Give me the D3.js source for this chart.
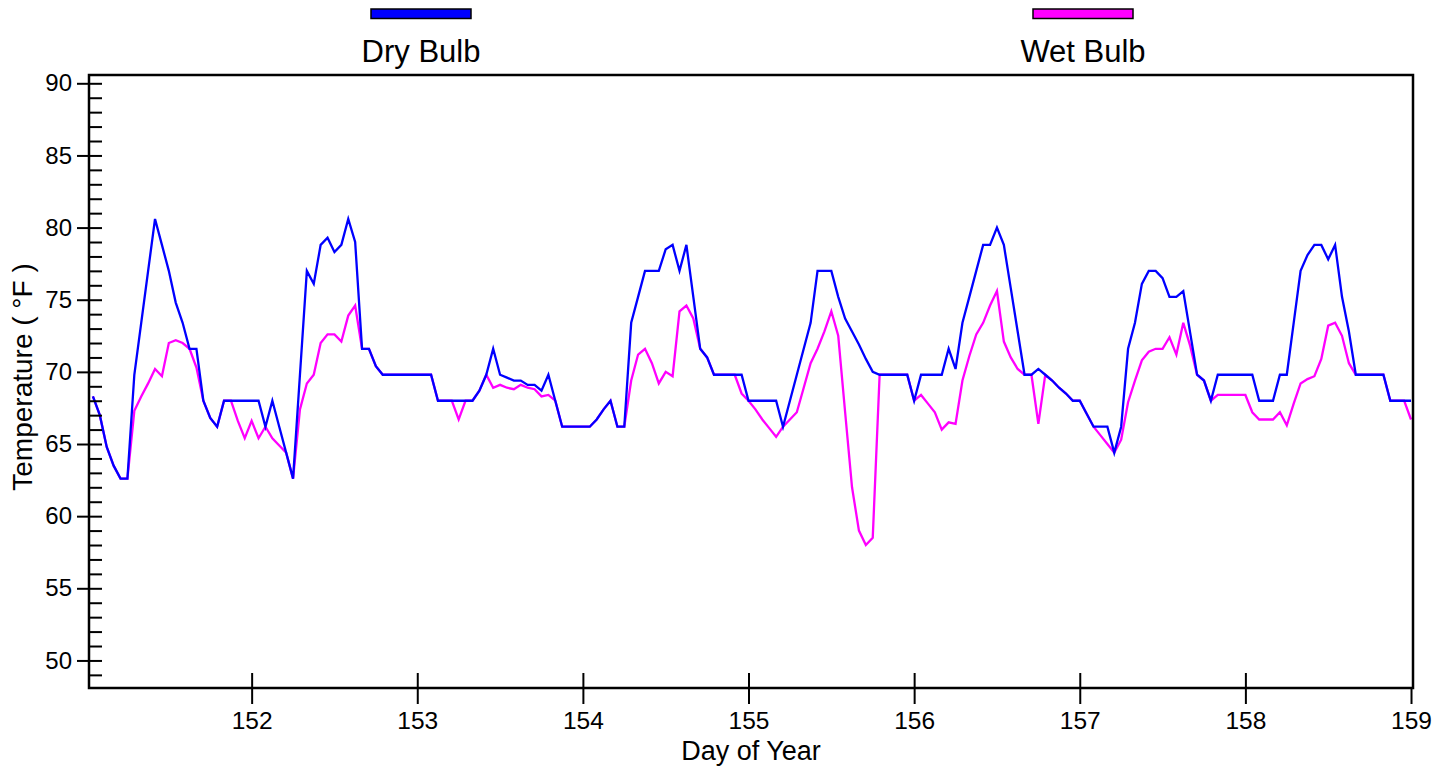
<!DOCTYPE html>
<html>
<head>
<meta charset="utf-8">
<script src="https://cdn.jsdelivr.net/npm/d3@7"></script>
<style>
  body { margin: 0; background: #fff; }
  svg text { font-family: "Liberation Sans", Arial, sans-serif; fill: #000; }
</style>
</head>
<body>
<svg id="drawing_region"></svg>
<script>
// hourly readings, first one at hour 1 of day 151
const startDay = 151;
const hoursPerDay = 24;

const dryBulb = [
  68.3, 67.0, 64.8, 63.5, 62.6, 62.6, 69.8, 73.4, 77.0, 80.6, 78.8, 77.0,
  74.8, 73.4, 71.6, 71.6, 68.0, 66.8, 66.2, 68.0, 68.0, 68.0, 68.0, 68.0,
  68.0, 66.2, 68.0, 66.2, 64.4, 62.6, 69.8, 77.0, 76.1, 78.8, 79.3, 78.3,
  78.8, 80.6, 79.0, 71.6, 71.6, 70.4, 69.8, 69.8, 69.8, 69.8, 69.8, 69.8,
  69.8, 69.8, 68.0, 68.0, 68.0, 68.0, 68.0, 68.0, 68.7, 69.8, 71.6, 69.8,
  69.6, 69.4, 69.4, 69.1, 69.1, 68.7, 69.8, 68.0, 66.2, 66.2, 66.2, 66.2,
  66.2, 66.7, 67.4, 68.0, 66.2, 66.2, 73.4, 75.2, 77.0, 77.0, 77.0, 78.5,
  78.8, 77.0, 78.8, 75.2, 71.6, 71.0, 69.8, 69.8, 69.8, 69.8, 69.8, 68.0,
  68.0, 68.0, 68.0, 68.0, 66.2, 68.0, 69.8, 71.6, 73.4, 77.0, 77.0, 77.0,
  75.2, 73.7, 72.8, 71.9, 70.9, 70.0, 69.8, 69.8, 69.8, 69.8, 69.8, 68.0,
  69.8, 69.8, 69.8, 69.8, 71.6, 70.2, 73.4, 75.2, 77.0, 78.8, 78.8, 80.0,
  78.8, 75.8, 72.8, 69.8, 69.8, 70.2, 69.8, 69.4, 68.9, 68.5, 68.0, 68.0,
  67.1, 66.2, 66.2, 66.2, 64.4, 66.2, 71.6, 73.4, 76.1, 77.0, 77.0, 76.5,
  75.2, 75.2, 75.6, 72.7, 69.8, 69.4, 68.0, 69.8, 69.8, 69.8, 69.8, 69.8,
  69.8, 68.0, 68.0, 68.0, 69.8, 69.8, 73.4, 77.0, 78.1, 78.8, 78.8, 77.8,
  78.8, 75.2, 72.8, 69.8, 69.8, 69.8, 69.8, 69.8, 68.0, 68.0, 68.0, 68.0
];

const wetBulb = [
  68.3, 67.0, 64.8, 63.5, 62.6, 62.6, 67.3, 68.3, 69.2, 70.2, 69.7, 72.0,
  72.2, 72.0, 71.6, 70.3, 68.0, 66.8, 66.2, 68.0, 68.0, 66.6, 65.4, 66.6,
  65.4, 66.2, 65.4, 64.9, 64.4, 62.6, 67.4, 69.2, 69.8, 72.0, 72.6, 72.6,
  72.1, 73.9, 74.6, 71.6, 71.6, 70.4, 69.8, 69.8, 69.8, 69.8, 69.8, 69.8,
  69.8, 69.8, 68.0, 68.0, 68.0, 66.7, 68.0, 68.0, 68.7, 69.8, 68.9, 69.1,
  68.9, 68.8, 69.1, 68.9, 68.8, 68.3, 68.4, 68.0, 66.2, 66.2, 66.2, 66.2,
  66.2, 66.7, 67.4, 68.0, 66.2, 66.2, 69.4, 71.2, 71.6, 70.6, 69.2, 70.0,
  69.7, 74.2, 74.6, 73.7, 71.6, 71.0, 69.8, 69.8, 69.8, 69.8, 68.5, 68.0,
  67.4, 66.7, 66.1, 65.5, 66.2, 66.7, 67.2, 68.9, 70.6, 71.6, 72.8, 74.2,
  72.5, 67.2, 62.0, 59.0, 58.0, 58.5, 69.8, 69.8, 69.8, 69.8, 69.8, 68.0,
  68.4, 67.8, 67.2, 66.0, 66.5, 66.4, 69.4, 71.1, 72.6, 73.4, 74.6, 75.6,
  72.1, 71.0, 70.2, 69.8, 69.8, 66.4, 69.8, 69.4, 68.9, 68.5, 68.0, 68.0,
  67.1, 66.2, 65.6, 65.0, 64.4, 65.3, 67.9, 69.4, 70.8, 71.4, 71.6, 71.6,
  72.4, 71.2, 73.4, 71.8, 69.8, 69.4, 68.0, 68.4, 68.4, 68.4, 68.4, 68.4,
  67.2, 66.7, 66.7, 66.7, 67.2, 66.3, 67.8, 69.2, 69.5, 69.7, 70.9, 73.2,
  73.4, 72.5, 70.6, 69.8, 69.8, 69.8, 69.8, 69.8, 68.0, 68.0, 68.0, 66.7
];

const seriesNames = ["Dry Bulb", "Wet Bulb"];
const seriesColors = ["#0000ff", "#ff00ff"];
const xTicks = [152, 153, 154, 155, 156, 157, 158, 159];
const yTicks = [50, 55, 60, 65, 70, 75, 80, 85, 90];

class LineChart {

    constructor( config, series ) {
        this.config = config;
        this.series = series;
        this.init();
    }

    init() {
        let self = this;
        let m = self.config.margin;

        self.inner_width = self.config.width - m.left - m.right;
        self.inner_height = self.config.height - m.top - m.bottom;

        self.svg = d3.select( self.config.parent )
            .attr('width', self.config.width)
            .attr('height', self.config.height);

        self.chart = self.svg.append('g')
            .attr('transform', `translate(${m.left}, ${m.top})`);

        self.xscale = d3.scaleLinear()
            .domain([151.018, 159.012])
            .range([0, self.inner_width]);

        self.yscale = d3.scaleLinear()
            .domain([48.09, 90.575])
            .range([self.inner_height, 0]);

        self.line = d3.line()
            .x( (d, i) => self.xscale( startDay + (i + 1) / hoursPerDay ) )
            .y( d => self.yscale(d) );
    }

    update() {
        let self = this;
        self.render();
    }

    render() {
        let self = this;
        let w = self.inner_width, h = self.inner_height;

        // wet bulb first so dry bulb sits on top
        self.chart.selectAll('path.series')
            .data( [1, 0] )
            .enter()
            .append('path')
            .attr('class', 'series')
            .attr('d', k => self.line( self.series[k] ))
            .attr('fill', 'none')
            .attr('stroke', k => seriesColors[k])
            .attr('stroke-width', 2.3);

        // y axis: outer ticks with labels, inner ticks every degree
        self.chart.append('g')
            .call( d3.axisLeft(self.yscale).tickValues(yTicks).tickSize(12).tickPadding(5) )
            .call( g => g.select('.domain').remove() )
            .call( g => g.selectAll('line').attr('stroke-width', 2) )
            .call( g => g.selectAll('text').attr('font-size', 24) );

        self.chart.append('g')
            .call( d3.axisRight(self.yscale).tickValues(d3.range(49, 91)).tickSize(13).tickFormat('') )
            .call( g => g.select('.domain').remove() )
            .call( g => g.selectAll('line').attr('stroke-width', 2) );

        // x axis
        self.chart.append('g')
            .attr('transform', `translate(0, ${h})`)
            .call( d3.axisBottom(self.xscale).tickValues(xTicks).tickSize(16).tickPadding(8) )
            .call( g => g.select('.domain').remove() )
            .call( g => g.selectAll('line').attr('stroke-width', 2) )
            .call( g => g.selectAll('text').attr('font-size', 24.5) );

        self.chart.append('g')
            .attr('transform', `translate(0, ${h})`)
            .call( d3.axisTop(self.xscale).tickValues(xTicks.slice(0, -1)).tickSize(15).tickFormat('') )
            .call( g => g.select('.domain').remove() )
            .call( g => g.selectAll('line').attr('stroke-width', 2) );

        // frame
        self.chart.append('rect')
            .attr('width', w)
            .attr('height', h)
            .attr('fill', 'none')
            .attr('stroke', '#000')
            .attr('stroke-width', 2.5);

        // titles
        self.chart.append('text')
            .attr('x', w / 2)
            .attr('y', h + 72)
            .attr('text-anchor', 'middle')
            .attr('font-size', 27)
            .text('Day of Year');

        self.svg.append('text')
            .attr('transform', 'translate(32, 377) rotate(-90)')
            .attr('text-anchor', 'middle')
            .attr('font-size', 28)
            .text('Temperature ( °F )');

        // legend
        const legendX = [421, 1083];
        const legend = self.svg.selectAll('g.legend')
            .data( seriesNames )
            .enter()
            .append('g')
            .attr('class', 'legend')
            .attr('transform', (d, i) => `translate(${legendX[i]}, 0)`);

        legend.append('rect')
            .attr('x', -50)
            .attr('y', 9)
            .attr('width', 100)
            .attr('height', 9.5)
            .attr('fill', (d, i) => seriesColors[i])
            .attr('stroke', '#000')
            .attr('stroke-width', 1.5);

        legend.append('text')
            .attr('y', 62)
            .attr('text-anchor', 'middle')
            .attr('font-size', 31)
            .text( d => d );
    }
}

var config = {
    parent: '#drawing_region',
    width: 1433,
    height: 767,
    margin: {top:75, right:20, bottom:79, left:89}
};

const chart = new LineChart( config, [dryBulb, wetBulb] );
chart.update();
</script>
</body>
</html>
